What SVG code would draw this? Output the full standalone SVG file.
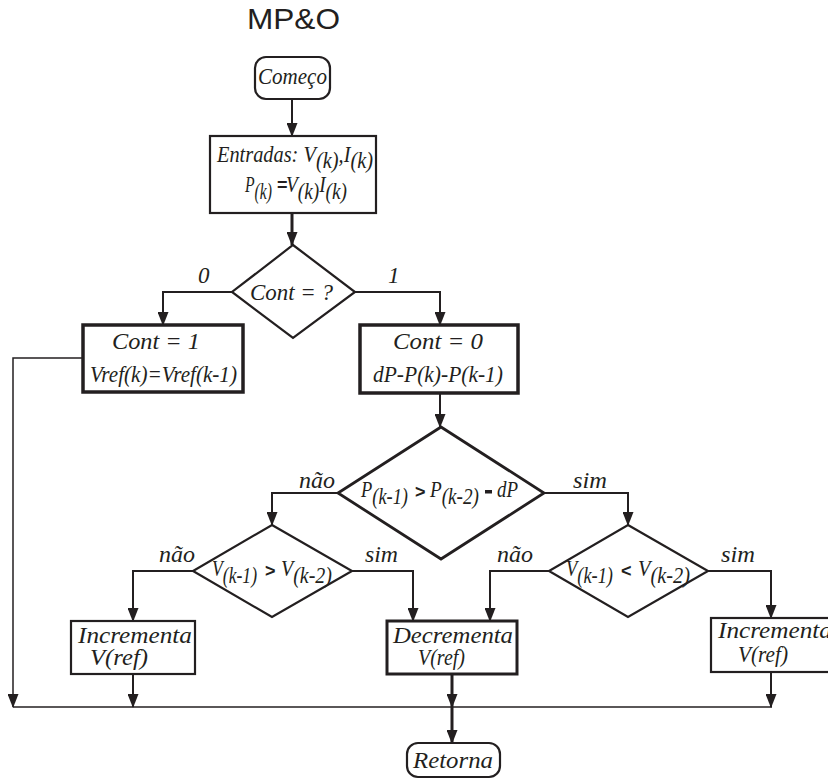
<svg xmlns="http://www.w3.org/2000/svg" width="828" height="780" viewBox="0 0 828 780">
  <defs>
    <marker id="arrow" markerUnits="userSpaceOnUse" markerWidth="14" markerHeight="11" refX="13" refY="5.5" orient="auto">
      <path d="M0,0 L14,5.5 L0,11 Z" fill="#231f20"/>
    </marker>
    <style>
      .t { font-family: "Liberation Serif", "Times New Roman", serif; font-style: italic; font-size: 23px; fill: #231f20; }
      .lbl { font-family: "Liberation Serif", "Times New Roman", serif; font-style: italic; font-size: 23px; fill: #231f20; }
      .op { font-family: "Liberation Sans", Arial, sans-serif; font-weight: bold; font-size: 18px; fill: #231f20; }
      .shape { fill: #ffffff; stroke: #231f20; stroke-width: 2.2; }
      .thick { stroke-width: 3.5; }
      .wire { fill: none; stroke: #231f20; stroke-width: 2; }
      .wire-thin { fill: none; stroke: #231f20; stroke-width: 1.5; }
      .wire-bold { fill: none; stroke: #231f20; stroke-width: 3; }
    </style>
  </defs>
  <rect width="828" height="780" fill="#ffffff"/>

  <text x="293.5" y="29" font-family="Liberation Sans, Arial, sans-serif" font-size="30" text-anchor="middle" fill="#231f20" textLength="93" lengthAdjust="spacingAndGlyphs">MP&amp;O</text>

  <!-- connectors -->
  <g id="connectors">
    <path class="wire" d="M292,99 V136" marker-end="url(#arrow)"/>
    <path class="wire-bold" d="M292,213 V245" marker-end="url(#arrow)"/>
    <path class="wire" d="M232,292 H163 V325" marker-end="url(#arrow)"/>
    <path class="wire" d="M355,292 H440 V325" marker-end="url(#arrow)"/>
    <path class="wire-thin" d="M83,358 H13 V707" marker-end="url(#arrow)"/>
    <path class="wire" d="M440,393 V427" marker-end="url(#arrow)"/>
    <path class="wire" d="M338,493 H272 V525" marker-end="url(#arrow)"/>
    <path class="wire" d="M544,493 H628 V525" marker-end="url(#arrow)"/>
    <path class="wire" d="M193,571 H133 V621" marker-end="url(#arrow)"/>
    <path class="wire" d="M352,571 H413 V621" marker-end="url(#arrow)"/>
    <path class="wire" d="M549,571 H490 V621" marker-end="url(#arrow)"/>
    <path class="wire" d="M708,571 H771 V618" marker-end="url(#arrow)"/>
    <path class="wire" d="M133,674 V707" marker-end="url(#arrow)"/>
    <path class="wire-bold" d="M452,674 V707" marker-end="url(#arrow)"/>
    <path class="wire" d="M771,672 V707" marker-end="url(#arrow)"/>
    <path class="wire-thin" d="M13,707 H772"/>
    <path class="wire-bold" d="M452,707 V743" marker-end="url(#arrow)"/>
    <text class="lbl" x="198" y="283">0</text>
    <text class="lbl" x="388" y="283">1</text>
    <text class="lbl" x="299" y="488" textLength="36" lengthAdjust="spacingAndGlyphs">não</text>
    <text class="lbl" x="573" y="488" textLength="34" lengthAdjust="spacingAndGlyphs">sim</text>
    <text class="lbl" x="159" y="562" textLength="36" lengthAdjust="spacingAndGlyphs">não</text>
    <text class="lbl" x="365" y="562" textLength="33" lengthAdjust="spacingAndGlyphs">sim</text>
    <text class="lbl" x="497" y="562" textLength="36" lengthAdjust="spacingAndGlyphs">não</text>
    <text class="lbl" x="721" y="562" textLength="34" lengthAdjust="spacingAndGlyphs">sim</text>
  </g>

  <g id="start">
    <rect class="shape" x="255" y="57" width="75" height="42" rx="11"/>
    <text class="t" x="258" y="84" font-size="22" textLength="69" lengthAdjust="spacingAndGlyphs">Começo</text>
  </g>

  <g id="inputs">
    <rect class="shape" x="210" y="136" width="166" height="77"/>
    <!-- subscripts are lowered with per-character dy shifts -->
    <text class="t" x="217" y="162" dy="0 0 0 0 0 0 0 0 0 0 0 6 0 0 -6 0 6" textLength="156" lengthAdjust="spacingAndGlyphs">Entradas: V(k),I(k)</text>
    <text class="t" x="245" y="192" dy="0 7" textLength="27" lengthAdjust="spacingAndGlyphs">P(k)</text>
    <text class="op" x="277" y="191" font-size="13">=</text>
    <text class="t" x="286" y="192" dy="0 7 0 0 -7 7" textLength="61" lengthAdjust="spacingAndGlyphs">V(k)I(k)</text>
  </g>

  <g id="cont-test">
    <polygon class="shape" points="293,245 355,292 293,338 232,292"/>
    <text class="t" x="291.5" y="300" text-anchor="middle" textLength="83" lengthAdjust="spacingAndGlyphs">Cont = ?</text>
  </g>

  <g id="cont-1">
    <rect class="shape thick" x="83" y="325" width="160" height="67"/>
    <text class="t" x="156" y="349" text-anchor="middle" textLength="88" lengthAdjust="spacingAndGlyphs">Cont = 1</text>
    <text class="t" x="163.5" y="382" text-anchor="middle" textLength="147" lengthAdjust="spacingAndGlyphs">Vref(k)=Vref(k-1)</text>
  </g>

  <g id="cont-0">
    <rect class="shape thick" x="360" y="325" width="158" height="68"/>
    <text class="t" x="438" y="349" text-anchor="middle" textLength="90" lengthAdjust="spacingAndGlyphs">Cont = 0</text>
    <text class="t" x="438" y="382" text-anchor="middle" textLength="130" lengthAdjust="spacingAndGlyphs">dP-P(k)-P(k-1)</text>
  </g>

  <g id="power-test">
    <polygon class="shape" points="441,427 544,493 441,559 338,493" style="stroke-width:2.8"/>
    <text class="t" x="361" y="497" dy="0 7" textLength="47" lengthAdjust="spacingAndGlyphs">P(k-1)</text>
    <text class="op" x="415" y="498" font-weight="normal">&gt;</text>
    <text class="t" x="430" y="497" dy="0 7" textLength="49" lengthAdjust="spacingAndGlyphs">P(k-2)</text>
    <rect x="485" y="490" width="7" height="3.5" fill="#231f20"/>
    <text class="t" x="497" y="497" textLength="21" lengthAdjust="spacingAndGlyphs">dP</text>
  </g>

  <g id="voltage-test-left">
    <polygon class="shape" points="272,525 352,571 272,617 193,571"/>
    <text class="t" x="212" y="576" dy="0 7" textLength="45" lengthAdjust="spacingAndGlyphs">V(k-1)</text>
    <text class="op" x="265" y="577">&gt;</text>
    <text class="t" x="281" y="576" dy="0 7" textLength="51" lengthAdjust="spacingAndGlyphs">V(k-2)</text>
  </g>

  <g id="voltage-test-right">
    <polygon class="shape" points="628,525 708,571 628,617 549,571"/>
    <text class="t" x="566" y="576" dy="0 7" textLength="47" lengthAdjust="spacingAndGlyphs">V(k-1)</text>
    <text class="op" x="621" y="577">&lt;</text>
    <text class="t" x="638" y="576" dy="0 7" textLength="52" lengthAdjust="spacingAndGlyphs">V(k-2)</text>
  </g>

  <g id="increment-left">
    <rect class="shape" x="71" y="621" width="124" height="53"/>
    <text class="t" x="78" y="643" textLength="114" lengthAdjust="spacingAndGlyphs">Incrementa</text>
    <text class="t" x="90" y="665" textLength="58" lengthAdjust="spacingAndGlyphs">V(ref)</text>
  </g>

  <g id="decrement">
    <rect class="shape" x="387" y="621" width="130" height="53" style="stroke-width:3"/>
    <text class="t" x="393" y="643" textLength="120" lengthAdjust="spacingAndGlyphs">Decrementa</text>
    <text class="t" x="418" y="665" textLength="47" lengthAdjust="spacingAndGlyphs">V(ref)</text>
  </g>

  <g id="increment-right">
    <rect class="shape" x="711" y="618" width="130" height="54"/>
    <text class="t" x="718" y="638" textLength="114" lengthAdjust="spacingAndGlyphs">Incrementa</text>
    <text class="t" x="738" y="662" textLength="50" lengthAdjust="spacingAndGlyphs">V(ref)</text>
  </g>

  <g id="end">
    <rect class="shape" x="407" y="743" width="93" height="34" rx="11"/>
    <text class="t" x="453" y="768" text-anchor="middle" textLength="80" lengthAdjust="spacingAndGlyphs">Retorna</text>
  </g>
</svg>
